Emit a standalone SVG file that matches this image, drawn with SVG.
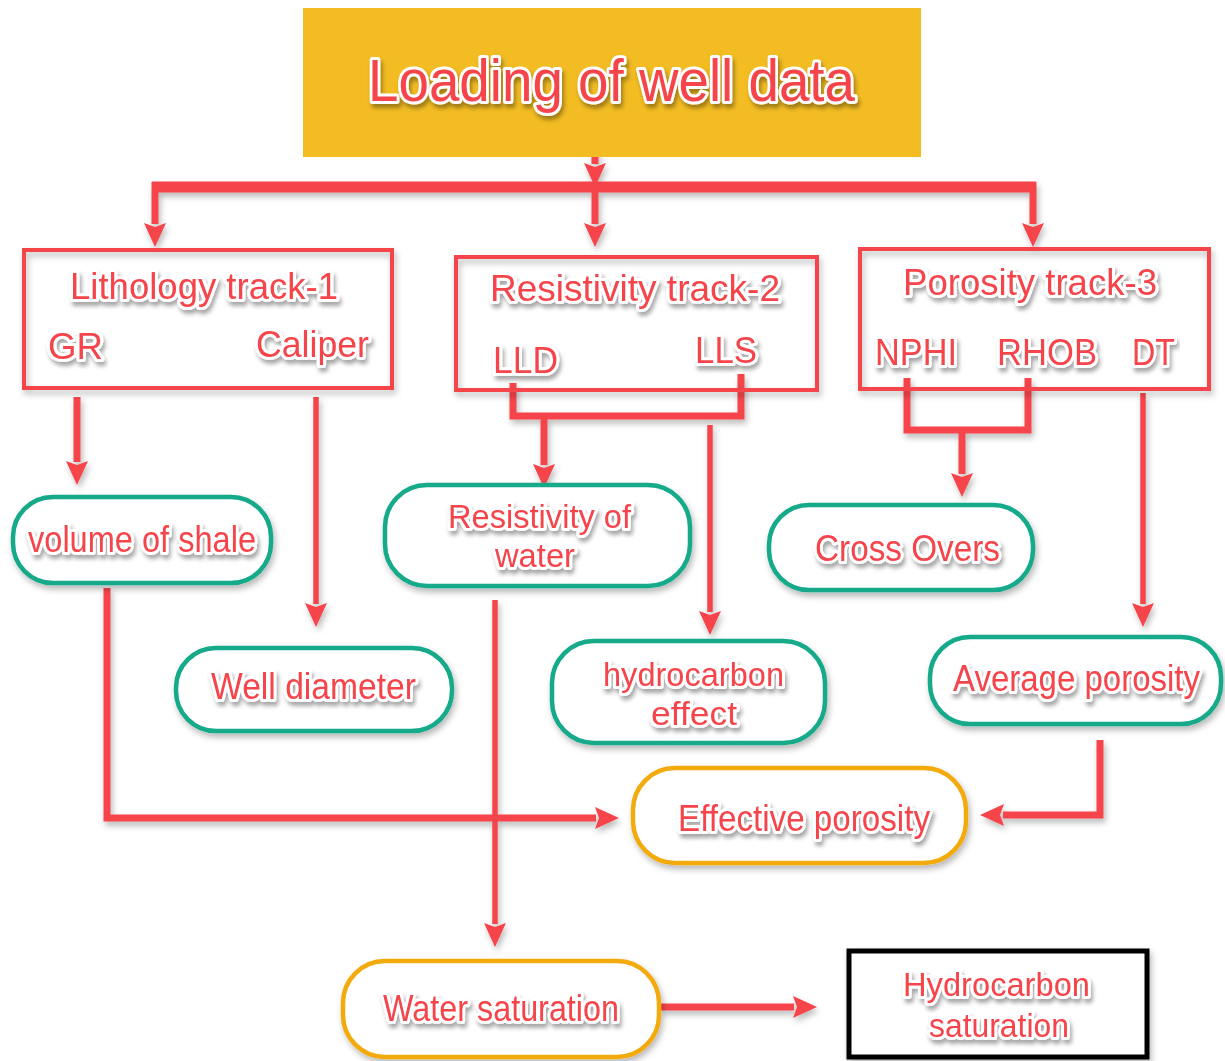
<svg xmlns="http://www.w3.org/2000/svg" width="1225" height="1061" viewBox="0 0 1225 1061">
<defs>
<filter id="ts" x="-10%" y="-30%" width="120%" height="170%">
<feDropShadow dx="2" dy="4" stdDeviation="2" flood-color="#000" flood-opacity="0.35"/>
</filter>
<filter id="ss" x="-10%" y="-10%" width="120%" height="130%">
<feDropShadow dx="2" dy="4" stdDeviation="3" flood-color="#000" flood-opacity="0.28"/>
</filter>
<filter id="cs" filterUnits="userSpaceOnUse" x="0" y="0" width="1225" height="1061">
<feDropShadow dx="2" dy="4" stdDeviation="3" flood-color="#000" flood-opacity="0.28"/>
</filter>
<marker id="ah" viewBox="0 0 24 24" refX="1" refY="12" markerWidth="24" markerHeight="24" markerUnits="userSpaceOnUse" orient="auto">
<path d="M0,1 L24,12 L0,23 L4,12 z" fill="#F5444B"/>
</marker>
</defs>
<style>
.t{font-family:"Liberation Sans",Arial,sans-serif;fill:#F5444B;stroke:#fff;stroke-width:6;stroke-linejoin:round;paint-order:stroke;filter:url(#ts)}
.tr{fill:none;stroke:#F5444B;stroke-width:4;filter:url(#ss)}
.gr{fill:#fff;stroke:#12A98A;stroke-width:4.5;filter:url(#ss)}
.or{fill:#fff;stroke:#F3AA0E;stroke-width:4.5;filter:url(#ss)}
.c{fill:none;stroke:#F5444B;stroke-width:7;stroke-linejoin:miter}
.c5{fill:none;stroke:#F5444B;stroke-width:5.5}
.a{marker-end:url(#ah)}
</style>
<rect width="1225" height="1061" fill="#fff"/>

<g id="connectors" filter="url(#cs)">
<path class="c" d="M152,187 L1036,187" style="stroke-width:11"/>
<path class="c a" d="M595,150 L595,164"/>
<path class="c a" d="M595,192 L595,224"/>
<path class="c a" d="M155,182 L155,224"/>
<path class="c a" d="M1033,182 L1033,224"/>
<path class="c a" d="M77,397 L77,462"/>
<path class="c5 a" d="M316,397 L316,604"/>
<path class="c" d="M513,383 L513,416 L741,416 L741,374"/>
<path class="c a" d="M544,416 L544,465"/>
<path class="c5 a" d="M710,425 L710,612"/>
<path class="c" d="M907,378 L907,430 L1028,430 L1028,378"/>
<path class="c a" d="M962,430 L962,474"/>
<path class="c5 a" d="M1143,393 L1143,604"/>
<path class="c a" d="M107,588 L107,818 L596,818"/>
<path class="c5 a" d="M495,600 L495,924"/>
<path class="c a" d="M1100,740 L1100,815 L1003,815"/>
<path class="c a" d="M660,1007 L794,1007"/>
</g>

<g id="loading">
<rect x="303" y="8" width="618" height="149" fill="#F2BC22"/>
<text class="t" x="368" y="101" font-size="60" textLength="487" lengthAdjust="spacingAndGlyphs">Loading of well data</text>
</g>

<g id="lithology">
<rect class="tr" x="24" y="250" width="368" height="138"/>
<text class="t" x="70" y="299" font-size="36" textLength="268" lengthAdjust="spacingAndGlyphs">Lithology track-1</text>
<text class="t" x="48" y="359" font-size="36" textLength="55" lengthAdjust="spacingAndGlyphs">GR</text>
<text class="t" x="256" y="357" font-size="36" textLength="113" lengthAdjust="spacingAndGlyphs">Caliper</text>
</g>

<g id="resistivity">
<rect class="tr" x="456" y="257" width="361" height="133"/>
<text class="t" x="490" y="301" font-size="36" textLength="290" lengthAdjust="spacingAndGlyphs">Resistivity track-2</text>
<text class="t" x="493" y="373" font-size="36" textLength="65" lengthAdjust="spacingAndGlyphs">LLD</text>
<text class="t" x="695" y="363" font-size="36" textLength="62" lengthAdjust="spacingAndGlyphs">LLS</text>
</g>

<g id="porosity">
<rect class="tr" x="860" y="249" width="349" height="140"/>
<text class="t" x="903" y="295" font-size="36" textLength="254" lengthAdjust="spacingAndGlyphs">Porosity track-3</text>
<text class="t" x="875" y="365" font-size="36" textLength="82" lengthAdjust="spacingAndGlyphs">NPHI</text>
<text class="t" x="997" y="365" font-size="36" textLength="100" lengthAdjust="spacingAndGlyphs">RHOB</text>
<text class="t" x="1132" y="365" font-size="36" textLength="43" lengthAdjust="spacingAndGlyphs">DT</text>
</g>

<g id="vshale">
<rect class="gr" x="13" y="497" width="258" height="86" rx="40"/>
<text class="t" x="28" y="552" font-size="36" textLength="228" lengthAdjust="spacingAndGlyphs">volume of shale</text>
</g>

<g id="welldiameter">
<rect class="gr" x="176" y="648" width="276" height="83" rx="40"/>
<text class="t" x="211" y="699" font-size="36" textLength="205" lengthAdjust="spacingAndGlyphs">Well diameter</text>
</g>

<g id="rw">
<rect class="gr" x="385" y="485" width="305" height="101" rx="42"/>
<text class="t" x="448" y="528" font-size="33" textLength="183" lengthAdjust="spacingAndGlyphs">Resistivity of</text>
<text class="t" x="495" y="567" font-size="33" textLength="80" lengthAdjust="spacingAndGlyphs">water</text>
</g>

<g id="hceffect">
<rect class="gr" x="552" y="641" width="273" height="102" rx="42"/>
<text class="t" x="603" y="686" font-size="33" textLength="181" lengthAdjust="spacingAndGlyphs">hydrocarbon</text>
<text class="t" x="651" y="725" font-size="33" textLength="86" lengthAdjust="spacingAndGlyphs">effect</text>
</g>

<g id="crossovers">
<rect class="gr" x="769" y="505" width="264" height="85" rx="40"/>
<text class="t" x="815" y="561" font-size="36" textLength="185" lengthAdjust="spacingAndGlyphs">Cross Overs</text>
</g>

<g id="avgporosity">
<rect class="gr" x="930" y="637" width="291" height="87" rx="40"/>
<text class="t" x="953" y="691" font-size="36" textLength="247" lengthAdjust="spacingAndGlyphs">Average porosity</text>
</g>

<g id="effporosity">
<rect class="or" x="633" y="768" width="333" height="95" rx="42"/>
<text class="t" x="678" y="831" font-size="36" textLength="252" lengthAdjust="spacingAndGlyphs">Effective porosity</text>
</g>

<g id="watersat">
<rect class="or" x="343" y="961" width="316" height="96" rx="42"/>
<text class="t" x="383" y="1021" font-size="36" textLength="236" lengthAdjust="spacingAndGlyphs">Water saturation</text>
</g>

<g id="hcsat">
<rect x="849" y="951" width="298" height="106" fill="#fff" stroke="#000" stroke-width="5" filter="url(#ss)"/>
<text class="t" x="903" y="996" font-size="34" textLength="187" lengthAdjust="spacingAndGlyphs">Hydrocarbon</text>
<text class="t" x="929" y="1037" font-size="34" textLength="140" lengthAdjust="spacingAndGlyphs">saturation</text>
</g>
</svg>
